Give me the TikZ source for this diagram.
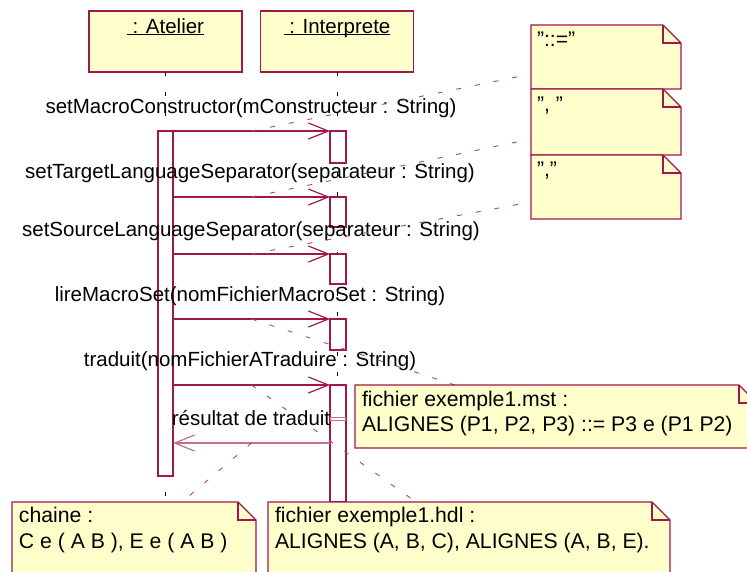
\documentclass[tikz,border=0pt]{standalone}
\usepackage{fontspec}
\setmainfont{Liberation Sans}
\usetikzlibrary{arrows.meta}
\definecolor{crim}{HTML}{A0174A}
\definecolor{retc}{HTML}{C7708F}
\definecolor{linkc}{HTML}{B8406E}
\definecolor{noteY}{HTML}{FFFFCC}
\newcommand\umlnote[5]{%
  \node[notebase, minimum width=#4pt, minimum height=#5pt] (#1) at (#2,#3) {};
  \path[notedraw] (#1.north west) -- ([xshift=-18pt]#1.north east) -- ([yshift=-18pt]#1.north east) -- (#1.south east) -- (#1.south west) -- cycle;
  \draw[crim, line width=1.1pt] ([xshift=-18pt]#1.north east) |- ([yshift=-18pt]#1.north east);
}
\begin{document}
\begin{tikzpicture}[x=1pt,y=-1pt,
  txt/.style={font=\fontsize{20.5}{24}\selectfont, inner sep=0, outer sep=0, text=black},
  ntxt/.style={font=\fontsize{21.2}{25}\selectfont, inner sep=0, outer sep=0, text=black, anchor=base west},
  objbox/.style={draw=crim, fill=noteY, line width=1.2pt, minimum width=153pt, minimum height=61pt, inner sep=0, outer sep=0},
  act/.style={draw=crim, fill=white, line width=1.1pt, inner sep=0, outer sep=0},
  life/.style={black, line width=0.7pt, dash pattern=on 4pt off 16pt},
  msg/.style={crim, line width=1.2pt, -{Straight Barb[length=20pt,width=16pt]}},
  ret/.style={retc, line width=1.2pt, -{Straight Barb[length=20pt,width=16pt]}},
  link/.style={linkc, line width=0.9pt, dash pattern=on 5pt off 14pt},
  notebase/.style={anchor=north west, inner sep=0, outer sep=0, draw=none},
  notedraw/.style={draw=crim, line width=1.3pt, fill=noteY, line join=miter}
]
\useasboundingbox (0,0) rectangle (747,571);
\clip (0,0) rectangle (747,571);

% objects
\node[objbox] (atelier) at (165.5,41.5) {};
\node[objbox] (interp) at (337,41.5) {};
\node[txt, anchor=base] (atT) at (165.5,33) {\ : Atelier};
\node[txt, anchor=base] (inT) at (337,33) {\ : Interprete};
\draw[black, line width=1pt] ([yshift=-1.8pt]atT.base west) -- ([yshift=-1.8pt]atT.base east);
\draw[black, line width=1pt] ([yshift=-1.8pt]inT.base west) -- ([yshift=-1.8pt]inT.base east);

% lifelines
\coordinate (endA) at (165.5,502);
\coordinate (endI) at (337,502);
\draw[life] (atelier.south) -- (endA);
\draw[life] (interp.south) -- (endI);

% activations
\node[act, minimum width=15pt, minimum height=345pt] (actA) at (165.5,303.5) {};
\node[act, minimum width=16pt, minimum height=32pt] (act1) at (338,147) {};
\node[act, minimum width=16pt, minimum height=30pt] (act2) at (338,212) {};
\node[act, minimum width=16pt, minimum height=30pt] (act3) at (338,269) {};
\node[act, minimum width=16pt, minimum height=31pt] (act4) at (338,334.5) {};
\node[act, minimum width=16pt, minimum height=117pt] (act5) at (338,443.5) {};
\node[draw=retc, fill=white, line width=0.8pt, minimum width=15pt, minimum height=3pt, inner sep=0, outer sep=0] (rmark) at (338,418.5) {};

% messages
\draw[msg] (actA.east |- act1.north) -- coordinate (m1) (act1.north west);
\draw[msg] (actA.east |- act2.north) -- coordinate (m2) (act2.north west);
\draw[msg] (actA.east |- act3.north) -- coordinate (m3) (act3.north west);
\draw[msg] (actA.east |- act4.north) -- coordinate (m4) (act4.north west);
\draw[msg] (actA.east |- act5.north) -- coordinate (m5) (act5.north west);
\draw[ret] ([yshift=-58pt]act5.north west) coordinate (r0) -- coordinate (m6) (actA.east |- r0);

% labels
\node[txt, anchor=base] (L1) at (251,113) {setMacroConstructor(mConstructeur : String)};
\node[txt, anchor=base] (L2) at (250,178) {setTargetLanguageSeparator(separateur : String)};
\node[txt, anchor=base] (L3) at (251,236) {setSourceLanguageSeparator(separateur : String)};
\node[txt, anchor=base] (L4) at (250,301) {lireMacroSet(nomFichierMacroSet : String)};
\node[txt, anchor=base] (L5) at (250,366) {traduit(nomFichierATraduire : String)};
\node[txt, anchor=base] (L6) at (251,425) {résultat de traduit};

% note links
\coordinate (e1) at (531,74);
\coordinate (e2) at (531,139);
\coordinate (e3) at (531,202);
\coordinate (e4) at (455,385);
\coordinate (e5) at (416,502);
\coordinate (e6) at (182,502);
\draw[link] (m1) -- (e1);
\draw[link] (m2) -- (e2);
\draw[link] (m3) -- (e3);
\draw[link] (m4) -- (e4);
\draw[link] (m5) -- (e5);
\draw[link] (m6) -- (e6);

% notes
\umlnote{n1}{531}{25}{150}{64}
\umlnote{n2}{531}{89}{150}{66}
\umlnote{n3}{531}{155}{150}{64}
\umlnote{mst}{355}{385}{402}{63}
\umlnote{chaine}{12}{502}{244}{90}
\umlnote{hdl}{268}{502}{402}{90}

\node[ntxt] (t1) at (537,46) {"::="};
\node[ntxt] (t2) at (537,111) {", "};
\node[ntxt] (t3) at (537,176) {","};
\node[ntxt] (ms1) at (362,406) {fichier exemple1.mst :};
\node[ntxt] (ms2) at (362,431) {ALIGNES (P1, P2, P3) ::= P3 e (P1 P2)};
\node[ntxt] (ch1) at (19,522) {chaine :};
\node[ntxt] (ch2) at (19,548) {C e ( A B ), E e ( A B )};
\node[ntxt] (hd1) at (275,522) {fichier exemple1.hdl :};
\node[ntxt] (hd2) at (275,548) {ALIGNES (A, B, C), ALIGNES (A, B, E).};
\end{tikzpicture}
\end{document}
